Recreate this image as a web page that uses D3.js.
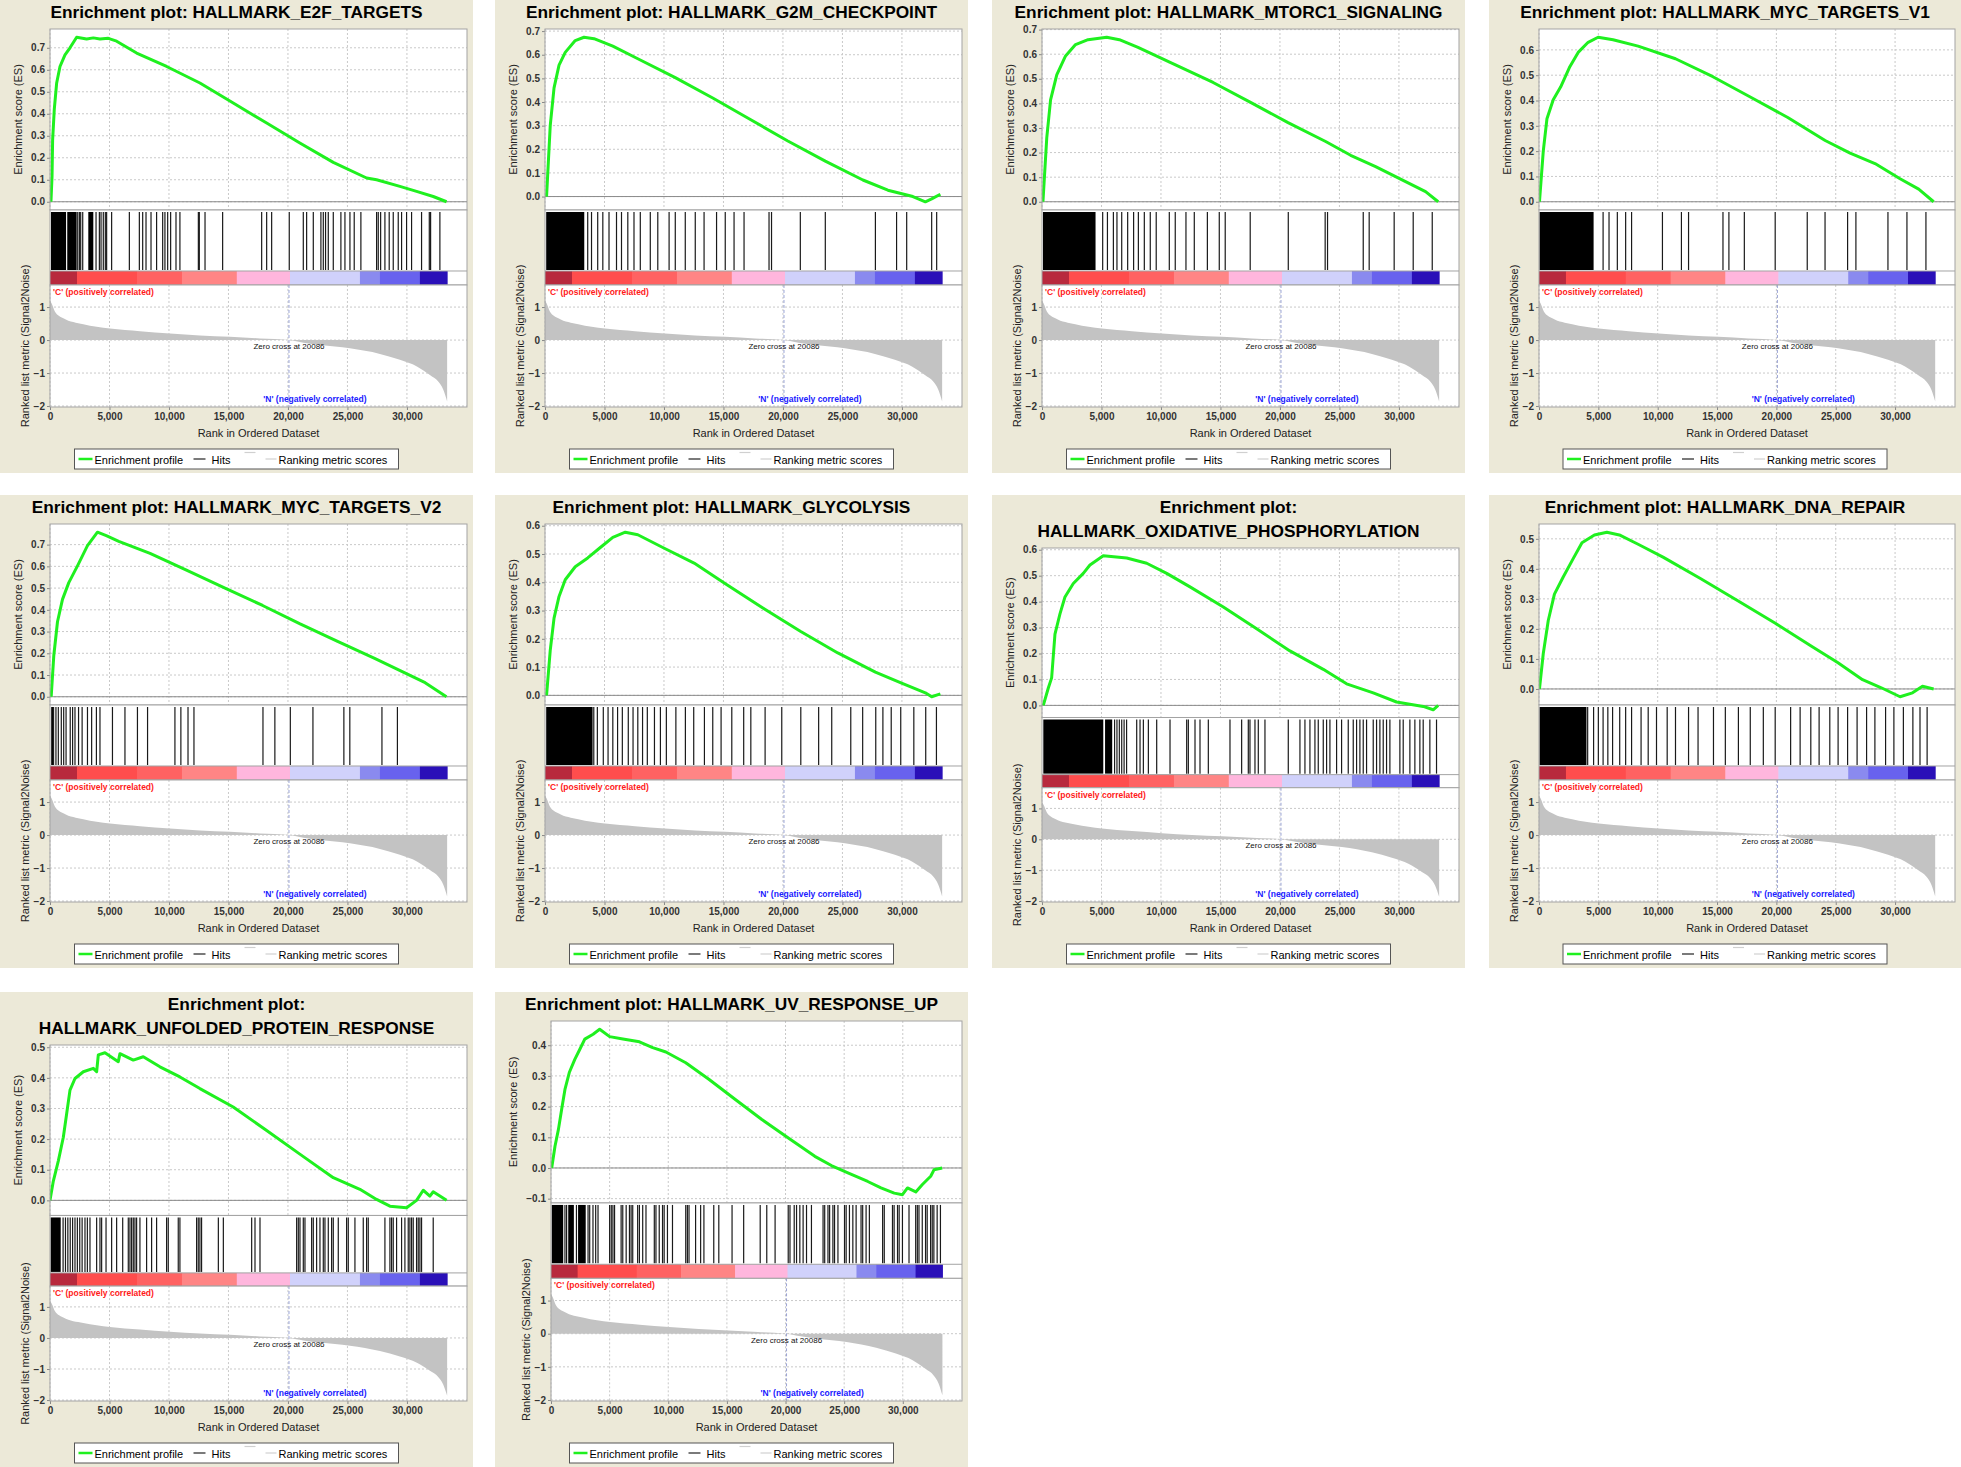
<!DOCTYPE html>
<html>
<head>
<meta charset="utf-8">
<script src="https://cdn.jsdelivr.net/npm/d3@7"></script>
<style>
  body { margin: 0; background: #fff; }
  text { font-family: "Liberation Sans", Arial, sans-serif; }
</style>
</head>
<body>
<svg id="chart" width="1961" height="1467"></svg>
<script>
// ranks are in thousands of genes, ES curves are [rank, score]
const N = 33.38;
const zeroCross = 20.086;

const titles = [
  ["Enrichment plot: HALLMARK_E2F_TARGETS"],
  ["Enrichment plot: HALLMARK_G2M_CHECKPOINT"],
  ["Enrichment plot: HALLMARK_MTORC1_SIGNALING"],
  ["Enrichment plot: HALLMARK_MYC_TARGETS_V1"],
  ["Enrichment plot: HALLMARK_MYC_TARGETS_V2"],
  ["Enrichment plot: HALLMARK_GLYCOLYSIS"],
  ["Enrichment plot:", "HALLMARK_OXIDATIVE_PHOSPHORYLATION"],
  ["Enrichment plot: HALLMARK_DNA_REPAIR"],
  ["Enrichment plot:", "HALLMARK_UNFOLDED_PROTEIN_RESPONSE"],
  ["Enrichment plot: HALLMARK_UV_RESPONSE_UP"]
];

const esE2F = [[0.08,0],[0.17,0.115],[0.22,0.28],[0.36,0.42],[0.56,0.54],[0.84,0.615],[1.26,0.668],[1.68,0.70],[2.24,0.748],[3.08,0.74],[3.64,0.745],[4.2,0.74],[4.9,0.743],[5.6,0.73],[7.28,0.676],[9.8,0.615],[12.6,0.54],[15.4,0.449],[18.21,0.358],[21.0,0.267],[23.81,0.179],[26.61,0.108],[27.45,0.1],[29.41,0.07],[30.81,0.047],[32.21,0.024],[33.33,0]];
const esG2M = [[0.13,0],[0.44,0.30],[0.76,0.46],[1.18,0.556],[1.7,0.61],[2.54,0.66],[3.28,0.674],[4.12,0.668],[5.7,0.636],[7.8,0.583],[10.95,0.503],[14.1,0.417],[17.26,0.326],[20.41,0.235],[23.56,0.15],[26.72,0.07],[28.82,0.027],[30.92,0],[31.97,-0.022],[32.5,-0.01],[33.23,0.01]];
const esMTORC1 = [[0.08,0],[0.4,0.26],[0.72,0.414],[1.24,0.516],[1.98,0.593],[2.82,0.639],[3.87,0.659],[5.44,0.669],[6.5,0.659],[8.07,0.628],[11.22,0.557],[14.38,0.485],[17.53,0.404],[20.68,0.322],[23.84,0.245],[25.94,0.189],[28.04,0.143],[30.14,0.092],[32.24,0.041],[33.3,0]];
const esMYCV1 = [[0.04,0],[0.36,0.2],[0.67,0.328],[1.2,0.403],[1.83,0.454],[2.56,0.53],[3.3,0.59],[4.14,0.63],[4.98,0.65],[6.24,0.64],[8.35,0.615],[11.5,0.565],[14.65,0.494],[17.8,0.414],[20.96,0.333],[24.11,0.242],[26.21,0.192],[28.31,0.151],[30.42,0.091],[31.99,0.05],[33.25,0]];
const esMYCV2 = [[0.1,0],[0.32,0.19],[0.63,0.345],[1.05,0.448],[1.58,0.525],[2.31,0.602],[3.15,0.695],[3.99,0.757],[4.73,0.741],[5.78,0.715],[8.41,0.66],[11.56,0.58],[14.71,0.5],[17.87,0.42],[21.02,0.335],[24.17,0.255],[27.33,0.175],[29.43,0.12],[31.53,0.065],[33.32,0]];
const esGLY = [[0.13,0],[0.44,0.159],[0.76,0.273],[1.18,0.35],[1.7,0.409],[2.54,0.455],[3.59,0.486],[4.65,0.523],[5.7,0.559],[6.75,0.577],[7.8,0.568],[9.9,0.523],[12.53,0.468],[15.16,0.395],[18.31,0.309],[21.46,0.227],[24.61,0.15],[27.77,0.082],[29.87,0.045],[31.97,0.009],[32.5,-0.005],[33.23,0.005]];
const esOXPHOS = [[0.11,0],[0.53,0.067],[0.81,0.106],[1.09,0.275],[1.51,0.353],[1.93,0.418],[2.63,0.47],[3.47,0.509],[4.03,0.541],[5.15,0.577],[7.12,0.568],[8.8,0.548],[10.48,0.509],[12.44,0.457],[15.24,0.379],[18.04,0.295],[20.84,0.21],[23.64,0.139],[25.6,0.083],[27.84,0.048],[29.8,0.013],[32.04,-0.004],[32.88,-0.017],[33.3,0]];
const esDNA = [[0.04,0],[0.36,0.118],[0.78,0.228],[1.3,0.316],[2.04,0.373],[2.88,0.434],[3.62,0.487],[4.67,0.513],[5.72,0.522],[6.77,0.513],[8.35,0.482],[10.45,0.439],[13.6,0.368],[16.75,0.294],[19.91,0.219],[23.06,0.14],[25.16,0.088],[27.26,0.031],[28.84,0.004],[30.42,-0.026],[31.47,-0.013],[32.31,0.009],[33.25,0]];
const esUPR = [[0,0],[0.28,0.063],[0.7,0.129],[1.12,0.206],[1.4,0.283],[1.68,0.36],[2.1,0.398],[2.8,0.42],[3.64,0.431],[3.92,0.42],[4.06,0.475],[4.62,0.482],[5.74,0.453],[5.88,0.479],[7.0,0.458],[7.84,0.469],[9.24,0.436],[10.92,0.403],[12.6,0.365],[15.4,0.305],[18.21,0.228],[21.0,0.151],[23.81,0.074],[26.05,0.036],[27.45,0.003],[28.57,-0.019],[29.97,-0.024],[30.81,0],[31.37,0.033],[31.93,0.014],[32.21,0.028],[33.33,0]];
const esUV = [[0.06,0],[0.34,0.071],[0.63,0.125],[0.91,0.191],[1.19,0.256],[1.56,0.311],[2.03,0.354],[2.46,0.387],[2.88,0.42],[3.59,0.436],[4.15,0.452],[5.0,0.428],[6.13,0.42],[7.54,0.411],[8.67,0.392],[9.8,0.378],[11.49,0.343],[13.46,0.289],[15.72,0.223],[17.98,0.158],[20.24,0.098],[22.5,0.038],[23.91,0.008],[25.32,-0.016],[27.01,-0.044],[28.14,-0.065],[29.27,-0.082],[29.97,-0.087],[30.4,-0.065],[31.11,-0.078],[31.67,-0.054],[32.38,-0.027],[32.66,-0.006],[33.36,0]];

// single hits, and solid runs of hits
const hitsE2F = [2.33,2.47,2.58,2.75,3.87,4.15,4.29,4.48,4.65,4.76,5.18,6.67,7.51,7.79,8.07,8.49,8.96,9.47,9.66,9.89,10.14,10.59,10.92,12.47,12.55,13.03,14.51,17.79,18.21,18.63,20.11,21.29,21.57,22.13,22.77,22.97,23.16,23.39,23.81,24.45,24.79,25.21,25.57,26.13,27.45,27.59,27.79,28.15,28.51,28.85,29.27,29.55,29.97,30.39,31.23,31.88,31.99,32.77];
const blocksE2F = [[0.08,1.35],[1.45,2.24],[3.22,3.64]];
const hitsG2M = [3.59,3.91,4.43,4.86,5.38,6.01,6.43,6.96,7.48,8.01,8.85,9.48,10.43,10.95,11.79,12.63,13.37,14.42,15.15,15.89,16.73,18.83,19.04,21.46,23.56,27.77,29.55,30.4,32.5,32.92];
const blocksG2M = [[0.1,3.3]];
const hitsMTORC1 = [5.1,5.5,6.0,6.3,6.7,7.2,7.7,8.1,8.6,9.1,9.6,10.7,11.2,12.1,12.8,13.9,14.9,15.4,17.5,20.7,23.8,24.0,27.0,27.5,29.6,31.2,32.8];
const blocksMTORC1 = [[0.08,4.5]];
const hitsMYCV1 = [5.4,5.9,6.6,7.3,7.8,10.4,12.0,12.6,15.5,16.0,17.3,19.9,22.6,24.1,26.0,26.7,29.4,31.0,32.6];
const blocksMYCV1 = [[0.04,4.6]];
const hitsMYCV2 = [0.3,0.5,0.7,0.95,1.15,1.35,1.7,1.9,2.1,2.4,2.7,3.15,3.5,3.9,4.2,5.25,6.3,7.35,8.2,10.5,11.0,11.6,12.1,17.9,18.9,20.2,22.1,24.7,25.2,27.9,29.2];
const blocksMYCV2 = [[0.1,0.25]];
const hitsGLY = [4.1,4.4,4.9,5.3,5.7,6.1,6.5,7.0,7.4,7.8,8.2,8.6,9.2,9.7,10.2,11.0,11.8,12.5,13.4,14.1,14.8,15.7,16.7,17.3,18.5,19.9,21.5,23.0,24.1,25.7,26.7,27.8,28.4,29.1,29.9,31.0,32.0,32.9];
const blocksGLY = [[0.1,4.0]];
const hitsOXPHOS = [6.1,6.3,6.5,6.7,6.9,7.11,7.96,8.24,8.52,8.94,9.64,10.76,12.16,12.3,12.86,13.28,13.98,15.8,16.78,17.34,17.48,17.9,18.18,18.74,20.7,21.68,22.1,22.52,22.94,23.22,23.64,23.92,24.2,24.76,25.18,25.74,26.16,26.44,26.72,27.0,27.28,27.84,28.12,28.4,28.68,28.96,29.24,30.08,30.36,30.92,31.34,31.76,32.04,32.6,33.16];
const blocksOXPHOS = [[0.11,5.15],[5.3,5.9]];
const hitsDNA = [4.1,4.6,5.0,5.4,5.8,6.2,6.8,7.3,7.8,8.6,9.2,9.9,10.8,11.5,12.6,13.4,14.7,15.7,16.8,17.8,18.9,19.9,21.2,22.0,22.9,23.6,24.5,25.2,26.0,26.8,27.6,28.3,29.2,29.9,30.7,31.5,32.1,32.7];
const blocksDNA = [[0.04,4.0]];
const hitsUPR = [1.1,1.3,1.5,1.7,1.9,2.1,2.3,2.5,2.7,2.94,3.14,3.36,3.92,4.2,4.34,4.71,5.18,5.6,6.11,6.58,6.72,6.86,7.0,7.14,7.28,7.56,8.12,8.54,8.96,9.8,9.94,10.78,10.92,12.32,12.46,12.6,12.74,14.15,14.57,16.95,17.23,17.65,20.73,20.87,21.01,21.29,21.43,21.99,22.13,22.41,22.69,22.97,23.11,23.39,23.67,23.81,24.23,24.93,25.07,25.63,26.33,26.61,26.75,28.15,28.57,28.71,28.85,29.13,29.55,29.83,30.11,30.25,30.39,30.53,30.81,30.95,31.09,31.23,32.21];
const blocksUPR = [[0.05,0.9]];
const hitsUV = [1.19,1.33,2.17,3.16,3.30,3.58,3.81,4.01,5.0,5.14,5.28,5.42,5.98,6.12,6.41,6.69,6.83,6.97,7.39,7.54,7.82,8.1,8.81,8.95,9.23,9.51,9.65,9.93,10.36,11.49,11.63,11.77,12.33,12.76,13.04,13.88,14.31,15.44,16.43,17.84,18.4,19.11,20.23,20.38,20.74,20.94,21.22,21.5,21.79,22.21,23.2,23.34,23.62,23.76,24.04,24.18,24.47,25.03,25.17,25.45,25.74,26.02,26.44,26.58,26.87,27.15,28.28,28.42,29.12,29.26,29.55,29.69,29.97,30.53,31.1,31.24,31.38,31.66,31.94,32.08,32.37,32.51,32.65,32.93,33.21];
const blocksUV = [[0.06,1.04],[1.47,1.95],[2.31,2.96]];

// shared ranked list metric (same dataset in every plot)
const metricRank  = [0, 0.14, 0.42, 1.12, 2.8, 5.04, 7.56, 10.08, 12.6, 15.13, 17.65, 20.09, 21.3, 22.69, 25.21, 27.73, 29.41, 30.84, 31.93, 32.63, 33.05, 33.38];
const metricValue = [1.2, 1.11, 0.86, 0.66, 0.48, 0.35, 0.27, 0.2, 0.14, 0.1, 0.05, 0, -0.08, -0.15, -0.25, -0.42, -0.6, -0.8, -1.06, -1.26, -1.5, -1.86];
const metricDomain = [-2.03, 1.67];
const metricTicks = [-2, -1, 0, 1];

// colour band under the hits, by rank
const bandEnds   = [2.27, 7.31, 11.09, 15.7, 20.17, 26.05, 27.73, 31.09, 33.38];
const bandColors = ["#b8293d", "#ff4d4d", "#ff6262", "#ff8585", "#ffb6dd", "#d0d1fb", "#8a8aef", "#6862ee", "#2a10b8"];

const xTicks = [0, 5, 10, 15, 20, 25, 30];

const panels = [
  {es: esE2F, hits: hitsE2F, blocks: blocksE2F},
  {es: esG2M, hits: hitsG2M, blocks: blocksG2M},
  {es: esMTORC1, hits: hitsMTORC1, blocks: blocksMTORC1},
  {es: esMYCV1, hits: hitsMYCV1, blocks: blocksMYCV1},
  {es: esMYCV2, hits: hitsMYCV2, blocks: blocksMYCV2},
  {es: esGLY, hits: hitsGLY, blocks: blocksGLY},
  {es: esOXPHOS, hits: hitsOXPHOS, blocks: blocksOXPHOS},
  {es: esDNA, hits: hitsDNA, blocks: blocksDNA},
  {es: esUPR, hits: hitsUPR, blocks: blocksUPR},
  {es: esUV, hits: hitsUV, blocks: blocksUV}
].map((p, i) => Object.assign(p, {title: titles[i]}));

const colX = [0, 495, 992, 1489];
const rowY = [0, 495, 992];

const svg = d3.select("#chart");
svg.append("rect").attr("width", 1961).attr("height", 1467).attr("fill", "#fff");

const tickFont = {size: 10, weight: "bold", fill: "#333"};

function drawPanel(p, i) {
  const col = i % 4, row = Math.floor(i / 4);
  const px = colX[col], py = rowY[row];
  const w = col === 3 ? 1961 - px : 473;
  const h = row === 2 ? 475 : 473;
  const g = svg.append("g").attr("transform", `translate(${px},${py})`);

  g.append("rect").attr("width", w).attr("height", h).attr("fill", "#ece9d8");

  p.title.forEach((t, k) => {
    g.append("text")
      .attr("x", w / 2).attr("y", 18 + k * 24)
      .attr("text-anchor", "middle")
      .attr("font-size", 17.3).attr("font-weight", "bold")
      .text(t);
  });

  // vertical layout of the three stacked plots
  const top = p.title.length === 1 ? 29 : 53;
  const bottom = h - 66;
  const total = bottom - top;
  const esBottom = top + total * 0.4788;
  const barTop = esBottom + total * 0.1614;
  const barBottom = barTop + total * 0.037;

  // ES scale, 5% padding like the original auto range
  const ext = d3.extent(p.es, d => d[1]);
  const pad = (ext[1] - ext[0]) * 0.05;
  const y = d3.scaleLinear().domain([ext[0] - pad, ext[1] + pad]).range([esBottom, top]);
  const esTicks = d3.range(Math.ceil((ext[0] - pad) * 10 - 1e-9), Math.floor((ext[1] + pad) * 10 + 1e-9) + 1).map(v => v / 10);
  const fmt = d3.format(".1f");

  // left margin follows the widest ES label
  const tmp = g.append("text").attr("font-size", tickFont.size).attr("font-weight", tickFont.weight);
  let maxW = 0;
  esTicks.forEach(v => { tmp.text(fmt(v)); maxW = Math.max(maxW, tmp.node().getComputedTextLength()); });
  tmp.remove();
  const left = Math.round(36 + maxW);
  const right = w - 6;

  const x = d3.scaleLinear().domain([0, N * 1.05]).range([left, right]);
  const ym = d3.scaleLinear().domain(metricDomain).range([bottom, barBottom]);

  const clipId = "clip" + i;
  g.append("clipPath").attr("id", clipId)
    .append("rect").attr("x", left).attr("y", top).attr("width", right - left).attr("height", esBottom - top);

  // ---- ES plot ----
  g.append("rect").attr("x", left).attr("y", top).attr("width", right - left).attr("height", esBottom - top)
    .attr("fill", "#fff");
  const grid = g.append("g").attr("stroke", "#c9c9c9").attr("stroke-dasharray", "2,2");
  xTicks.forEach(t => grid.append("line").attr("x1", x(t)).attr("x2", x(t)).attr("y1", top).attr("y2", esBottom));
  esTicks.forEach(t => grid.append("line").attr("x1", left).attr("x2", right).attr("y1", y(t)).attr("y2", y(t)));
  g.append("line").attr("x1", left).attr("x2", right).attr("y1", y(0)).attr("y2", y(0))
    .attr("stroke", "#8a8a8a");

  g.append("path").datum(p.es)
    .attr("clip-path", `url(#${clipId})`)
    .attr("fill", "none").attr("stroke", "#1ff01f").attr("stroke-width", 3)
    .attr("stroke-linejoin", "round")
    .attr("d", d3.line().x(d => x(d[0])).y(d => y(d[1])));

  g.append("g").attr("transform", `translate(${left},0)`)
    .call(d3.axisLeft(y).tickValues(esTicks).tickFormat(fmt).tickSize(3).tickPadding(2))
    .call(a => a.select(".domain").remove())
    .call(a => a.selectAll("line").attr("stroke", "#888"))
    .call(a => a.selectAll("text").attr("font-size", tickFont.size).attr("font-weight", tickFont.weight)
      .attr("fill", tickFont.fill).attr("font-family", null));

  g.append("rect").attr("x", left).attr("y", top).attr("width", right - left).attr("height", esBottom - top)
    .attr("fill", "none").attr("stroke", "#a3a3a3");

  const labelLeft = left - 5 - maxW;
  g.append("text")
    .attr("transform", `translate(${labelLeft - 9},${(top + esBottom) / 2}) rotate(-90)`)
    .attr("text-anchor", "middle").attr("font-size", 11).attr("fill", "#222")
    .text("Enrichment score (ES)");

  // ---- hits ----
  g.append("rect").attr("x", left).attr("y", esBottom).attr("width", right - left).attr("height", barBottom - esBottom)
    .attr("fill", "#fff");
  const hg = g.append("g");
  hg.selectAll("rect.blk").data(p.blocks).join("rect").attr("class", "blk")
    .attr("x", d => x(d[0])).attr("width", d => Math.max(1, x(d[1]) - x(d[0])))
    .attr("y", esBottom + 2).attr("height", barTop - esBottom - 3)
    .attr("fill", "#000");
  hg.selectAll("line").data(p.hits).join("line")
    .attr("x1", d => x(d)).attr("x2", d => x(d))
    .attr("y1", esBottom + 2).attr("y2", barTop - 1)
    .attr("stroke", "#1a1a1a").attr("stroke-width", 1.2);

  // colour band
  g.selectAll("rect.band").data(bandEnds).join("rect").attr("class", "band")
    .attr("x", (d, k) => x(k === 0 ? 0 : bandEnds[k - 1]))
    .attr("width", (d, k) => x(d) - x(k === 0 ? 0 : bandEnds[k - 1]) + 0.5)
    .attr("y", barTop).attr("height", barBottom - barTop)
    .attr("fill", (d, k) => bandColors[k]);

  g.append("line").attr("x1", left).attr("x2", right).attr("y1", barTop).attr("y2", barTop).attr("stroke", "#a3a3a3");
  g.append("rect").attr("x", left).attr("y", esBottom).attr("width", right - left).attr("height", barBottom - esBottom)
    .attr("fill", "none").attr("stroke", "#a3a3a3");

  // ---- ranked list metric ----
  g.append("rect").attr("x", left).attr("y", barBottom).attr("width", right - left).attr("height", bottom - barBottom)
    .attr("fill", "#fff");
  const mgrid = g.append("g").attr("stroke", "#c9c9c9").attr("stroke-dasharray", "2,2");
  xTicks.forEach(t => mgrid.append("line").attr("x1", x(t)).attr("x2", x(t)).attr("y1", barBottom).attr("y2", bottom));
  metricTicks.forEach(t => mgrid.append("line").attr("x1", left).attr("x2", right).attr("y1", ym(t)).attr("y2", ym(t)));

  const metric = metricRank.map((r, k) => [r, metricValue[k]]);
  g.append("path").datum(metric)
    .attr("fill", "#c3c3c3")
    .attr("d", d3.area().curve(d3.curveMonotoneX).x(d => x(d[0])).y0(ym(0)).y1(d => ym(d[1])));

  g.append("line").attr("x1", x(zeroCross)).attr("x2", x(zeroCross)).attr("y1", barBottom).attr("y2", bottom)
    .attr("stroke", "#9aa3d4").attr("stroke-dasharray", "3,2");

  g.append("text").attr("x", left + 3).attr("y", barBottom + 10)
    .attr("font-size", 8.5).attr("fill", "#ff1a1a").attr("font-weight", "bold")
    .text("'C' (positively correlated)");
  g.append("text").attr("x", x(zeroCross)).attr("y", ym(0) + 9)
    .attr("text-anchor", "middle").attr("font-size", 8).attr("fill", "#111")
    .text("Zero cross at 20086");
  g.append("text").attr("x", x(22.27)).attr("y", bottom - 5)
    .attr("text-anchor", "middle").attr("font-size", 8.5).attr("fill", "#2020ff").attr("font-weight", "bold")
    .text("'N' (negatively correlated)");

  g.append("g").attr("transform", `translate(${left},0)`)
    .call(d3.axisLeft(ym).tickValues(metricTicks).tickFormat(d3.format("d")).tickSize(3).tickPadding(2))
    .call(a => a.select(".domain").remove())
    .call(a => a.selectAll("line").attr("stroke", "#888"))
    .call(a => a.selectAll("text").attr("font-size", tickFont.size).attr("font-weight", tickFont.weight)
      .attr("fill", tickFont.fill).attr("font-family", null));

  g.append("g").attr("transform", `translate(0,${bottom})`)
    .call(d3.axisBottom(x).tickValues(xTicks).tickFormat(d => d3.format(",")(d * 1000)).tickSize(3).tickPadding(3))
    .call(a => a.select(".domain").remove())
    .call(a => a.selectAll("line").attr("stroke", "#888"))
    .call(a => a.selectAll("text").attr("font-size", tickFont.size).attr("font-weight", tickFont.weight)
      .attr("fill", tickFont.fill).attr("font-family", null));

  g.append("rect").attr("x", left).attr("y", barBottom).attr("width", right - left).attr("height", bottom - barBottom)
    .attr("fill", "none").attr("stroke", "#a3a3a3");

  g.append("text")
    .attr("transform", `translate(${left - 5 - 9 - 7},${(barBottom + bottom) / 2}) rotate(-90)`)
    .attr("text-anchor", "middle").attr("font-size", 11).attr("fill", "#222")
    .text("Ranked list metric (Signal2Noise)");

  g.append("text").attr("x", (left + right) / 2).attr("y", bottom + 30)
    .attr("text-anchor", "middle").attr("font-size", 11).attr("fill", "#222")
    .text("Rank in Ordered Dataset");

  // ---- legend ----
  const lx = w / 2 - 162, ly = h - 24;
  const lg = g.append("g").attr("transform", `translate(${lx},${ly})`);
  lg.append("rect").attr("width", 324).attr("height", 20).attr("fill", "#fff").attr("stroke", "#555");
  lg.append("line").attr("x1", 4).attr("x2", 18).attr("y1", 10).attr("y2", 10).attr("stroke", "#1ff01f").attr("stroke-width", 2.5);
  lg.append("text").attr("x", 20).attr("y", 14.5).attr("font-size", 11).text("Enrichment profile");
  lg.append("line").attr("x1", 119).attr("x2", 131).attr("y1", 10).attr("y2", 10).attr("stroke", "#222").attr("stroke-width", 1.2);
  lg.append("text").attr("x", 137).attr("y", 14.5).attr("font-size", 11).text("Hits");
  lg.append("line").attr("x1", 170).attr("x2", 181).attr("y1", 3.5).attr("y2", 3.5).attr("stroke", "#d0d0d0").attr("stroke-width", 1.2);
  lg.append("line").attr("x1", 191).attr("x2", 202).attr("y1", 10).attr("y2", 10).attr("stroke", "#d0d0d0").attr("stroke-width", 1.2);
  lg.append("text").attr("x", 204).attr("y", 14.5).attr("font-size", 11).text("Ranking metric scores");
}

panels.forEach(drawPanel);
</script>
</body>
</html>
